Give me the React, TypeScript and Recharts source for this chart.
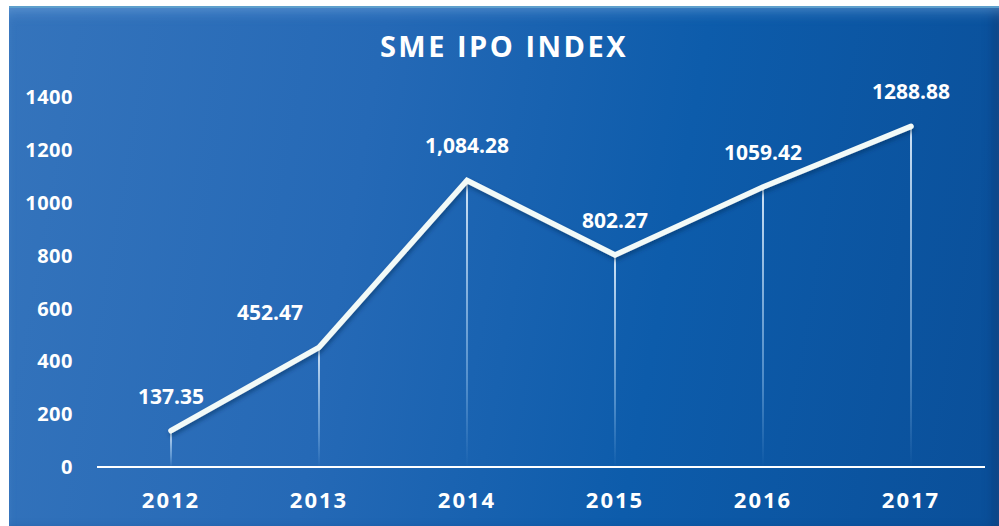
import { ComposedChart, Line, Bar, XAxis, YAxis, LabelList } from 'recharts'

const years = ['2012', '2013', '2014', '2015', '2016', '2017']
const indexValues = [137.35, 452.47, 1084.28, 802.27, 1059.42, 1288.88]
const valueLabels = ['137.35', '452.47', '1,084.28', '802.27', '1059.42', '1288.88']
const yTicks = [0, 200, 400, 600, 800, 1000, 1200, 1400]

const data = years.map((year, i) => ({
  year,
  value: indexValues[i],
  label: valueLabels[i],
}))

const font = '"Open Sans", "Noto Sans", sans-serif'

// label sits above the point; when the line climbs steeply on both sides
// it is pushed to the left so it doesn't sit on the line
function ValueLabel(props: any) {
  const { x, y, value, index } = props
  const prev = indexValues[index - 1]
  const next = indexValues[index + 1]
  const cur = indexValues[index]
  const steep = prev !== undefined && next !== undefined && prev < cur && next - cur > 300
  return (
    <text
      x={steep ? x - 16 : x}
      y={y - 27}
      textAnchor={steep ? 'end' : 'middle'}
      fill="#ffffff"
      fontSize={21}
      fontWeight={700}
      fontFamily={font}
    >
      {value}
    </text>
  )
}

export default function App() {
  return (
    <div
      style={{
        position: 'absolute',
        left: 9,
        top: 6,
        width: 990,
        height: 520,
        background: 'linear-gradient(100deg, #3574bc 0%, #2569b6 35%, #0d5cab 65%, #0a4f99 100%)',
        borderTop: '2px solid #5d9fcc',
        boxSizing: 'border-box',
        boxShadow: 'inset 0 10px 14px -8px rgba(140,190,240,0.55), inset -10px 0 14px -8px rgba(10,40,90,0.6)',
        fontFamily: font,
      }}
    >
      <div
        style={{
          position: 'absolute',
          top: 23,
          left: 0,
          width: 990,
          textAlign: 'center',
          color: '#fff',
          fontSize: 29,
          fontWeight: 700,
          lineHeight: 1,
          letterSpacing: 2.5,
        }}
      >
        SME IPO INDEX
      </div>
      <div style={{ position: 'absolute', left: 0, top: -2 }}>
        <ComposedChart width={990} height={520} data={data} margin={{ top: 91, right: 14, bottom: 0, left: 18 }}>
          <defs>
            <linearGradient id="dropFade" x1="0" y1="0" x2="0" y2="1">
              <stop offset="0%" stopColor="#e8f4ff" stopOpacity={0.9} />
              <stop offset="70%" stopColor="#9cc8f0" stopOpacity={0.45} />
              <stop offset="100%" stopColor="#9cc8f0" stopOpacity={0} />
            </linearGradient>
            <filter id="lineShadow" x="-10%" y="-20%" width="120%" height="140%">
              <feDropShadow dx="1" dy="3" stdDeviation="2" floodColor="#06305f" floodOpacity={0.55} />
            </filter>
          </defs>
          <XAxis
            dataKey="year"
            height={59}
            axisLine={{ stroke: '#ffffff', strokeWidth: 2 }}
            tickLine={false}
            tickMargin={19}
            tick={{ fill: '#ffffff', fontSize: 22, fontWeight: 700, fontFamily: font, letterSpacing: 2 }}
          />
          <YAxis
            width={70}
            domain={[0, 1400]}
            ticks={yTicks}
            axisLine={false}
            tickLine={false}
            tickMargin={18}
            tick={{ fill: '#ffffff', fontSize: 20, fontWeight: 700, fontFamily: font, letterSpacing: 0.5 }}
          />
          <Bar dataKey="value" barSize={2} fill="url(#dropFade)" isAnimationActive={false} />
          <Line
            type="linear"
            dataKey="value"
            stroke="#f2faf8"
            strokeWidth={5.5}
            strokeLinejoin="miter"
            strokeLinecap="round"
            dot={false}
            activeDot={false}
            filter="url(#lineShadow)"
            isAnimationActive={false}
          >
            <LabelList dataKey="label" content={<ValueLabel />} />
          </Line>
        </ComposedChart>
      </div>
    </div>
  )
}
